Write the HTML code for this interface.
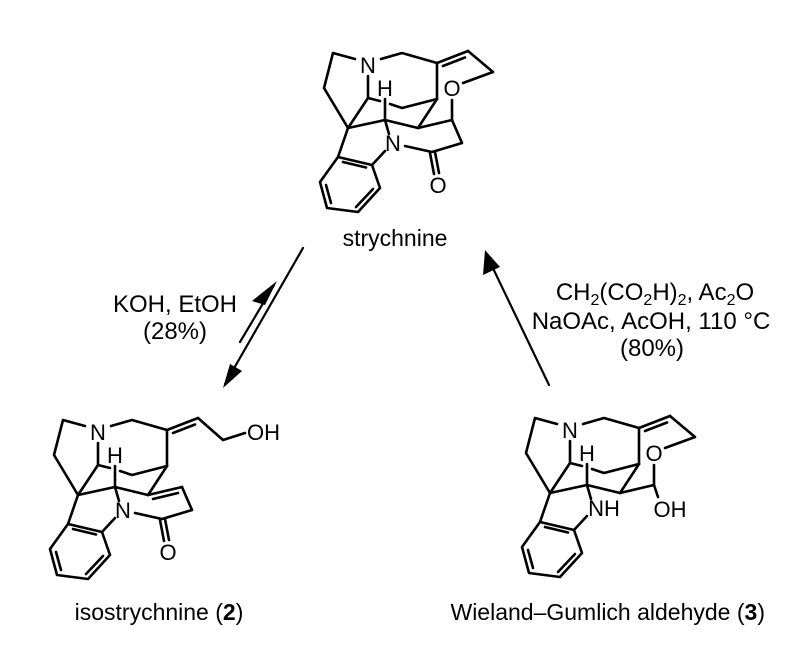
<!DOCTYPE html>
<html><head><meta charset="utf-8"><style>
html,body{margin:0;padding:0;background:#fff}
svg{display:block}
text{font-family:"Liberation Sans",Arial,sans-serif;fill:#000}
</style></head><body>
<svg width="808" height="652" viewBox="0 0 808 652" xmlns="http://www.w3.org/2000/svg">
<defs>
<g id="core" stroke="#000" stroke-width="2.6" fill="none" stroke-linecap="round" stroke-linejoin="round">
  <path d="M355,59 L333,53 L324,88 L348,128"/>
  <path d="M381,59 L402,53 L437,63"/>
  <path d="M437,63 L437,99"/>
  <path d="M368,76 L368,98 L348,128"/>
  <path d="M368,98 L380,101 M390,104 L402,108 L437,99"/>
  <path d="M385,99 L385,120"/>
  <path d="M348,128 L385,120 L418,128"/>
  <path d="M437,99 L418,128"/>
  <path d="M348,128 L338,157 L372,165 L380,188 L358,212 L327,208 L320,182 L338,157"/>
  <path d="M343,162 L366,167.5 M373,189 L356,207 M331,203 L326,185"/>
  <path d="M372,165 L385,151"/>
  <path d="M385,120 L389,134"/>
  <path d="M437,63 L468,51 M443,66 L465,57.5"/>
</g>
</defs>

<!-- strychnine -->
<use href="#core"/>
<g stroke="#000" stroke-width="2.6" fill="none" stroke-linecap="round" stroke-linejoin="round">
  <path d="M468,51 L493,72 L463,83"/>
  <path d="M452,100 L452,120 L418,128"/>
  <path d="M452,120 L462,143 L432,152 L405,146"/>
  <path d="M430,153 L434,174 M435,152 L439,173"/>
</g>
<g font-size="22" text-anchor="middle">
<text x="368" y="73">N</text>
<text x="385" y="96">H</text>
<text x="452" y="96">O</text>
<text x="393" y="151">N</text>
<text x="438" y="193">O</text>
</g>
<text x="395" y="246" font-size="23" text-anchor="middle">strychnine</text>

<!-- isostrychnine -->
<g transform="translate(-270,367)">
<use href="#core"/>
<g stroke="#000" stroke-width="2.6" fill="none" stroke-linecap="round" stroke-linejoin="round">
  <path d="M468,51 L493,73 L515,66"/>
  <path d="M418,128 L452,120 M423,132 L448,126"/>
  <path d="M452,120 L462,143 L432,152 L405,146"/>
  <path d="M430,153 L434,174 M435,152 L439,173"/>
</g>
<g font-size="22" text-anchor="middle">
<text x="368" y="73">N</text>
<text x="385" y="96">H</text>
<text x="393" y="151">N</text>
<text x="438" y="193">O</text>
</g>
<text x="517" y="73" font-size="22">OH</text>
</g>
<text x="159" y="620" font-size="23" text-anchor="middle">isostrychnine (<tspan font-weight="bold">2</tspan>)</text>

<!-- Wieland-Gumlich -->
<g transform="translate(202,365)">
<use href="#core"/>
<g stroke="#000" stroke-width="2.6" fill="none" stroke-linecap="round" stroke-linejoin="round">
  <path d="M468,51 L493,72 L463,83"/>
  <path d="M452,100 L452,120 L418,128"/>
  <path d="M452,120 L456,132"/>
</g>
<g font-size="22" text-anchor="middle">
<text x="368" y="73">N</text>
<text x="385" y="96">H</text>
<text x="452" y="96">O</text>
<text x="402" y="151">NH</text>
<text x="468" y="152">OH</text>
</g>
</g>
<text x="765" y="620" font-size="23" text-anchor="end">Wieland–Gumlich aldehyde (<tspan font-weight="bold">3</tspan>)</text>

<!-- equilibrium arrows -->
<g stroke="#000" stroke-width="2.2" fill="none" stroke-linecap="round">
  <path d="M303,248 L225,384"/>
  <path d="M240,342 L274,285"/>
</g>
<path d="M223,388 L230,364 L242,371 Z" fill="#000"/>
<path d="M277,281 L252,301 L265,305 Z" fill="#000"/>
<text x="175" y="312" font-size="24" text-anchor="middle">KOH, EtOH</text>
<text x="175" y="339" font-size="24" text-anchor="middle">(28%)</text>

<!-- right arrow -->
<path d="M549,385 L490,262" stroke="#000" stroke-width="2.2" fill="none" stroke-linecap="round"/>
<path d="M485,250 L483,275 L500,267 Z" fill="#000"/>
<text x="655" y="300" font-size="24" text-anchor="middle">CH<tspan font-size="16" dy="5">2</tspan><tspan dy="-5">(CO</tspan><tspan font-size="16" dy="5">2</tspan><tspan dy="-5">H)</tspan><tspan font-size="16" dy="5">2</tspan><tspan dy="-5">, Ac</tspan><tspan font-size="16" dy="5">2</tspan><tspan dy="-5">O</tspan></text>
<text x="651" y="329" font-size="24" text-anchor="middle">NaOAc, AcOH, 110 °C</text>
<text x="652" y="356" font-size="24" text-anchor="middle">(80%)</text>
</svg>
</body></html>
